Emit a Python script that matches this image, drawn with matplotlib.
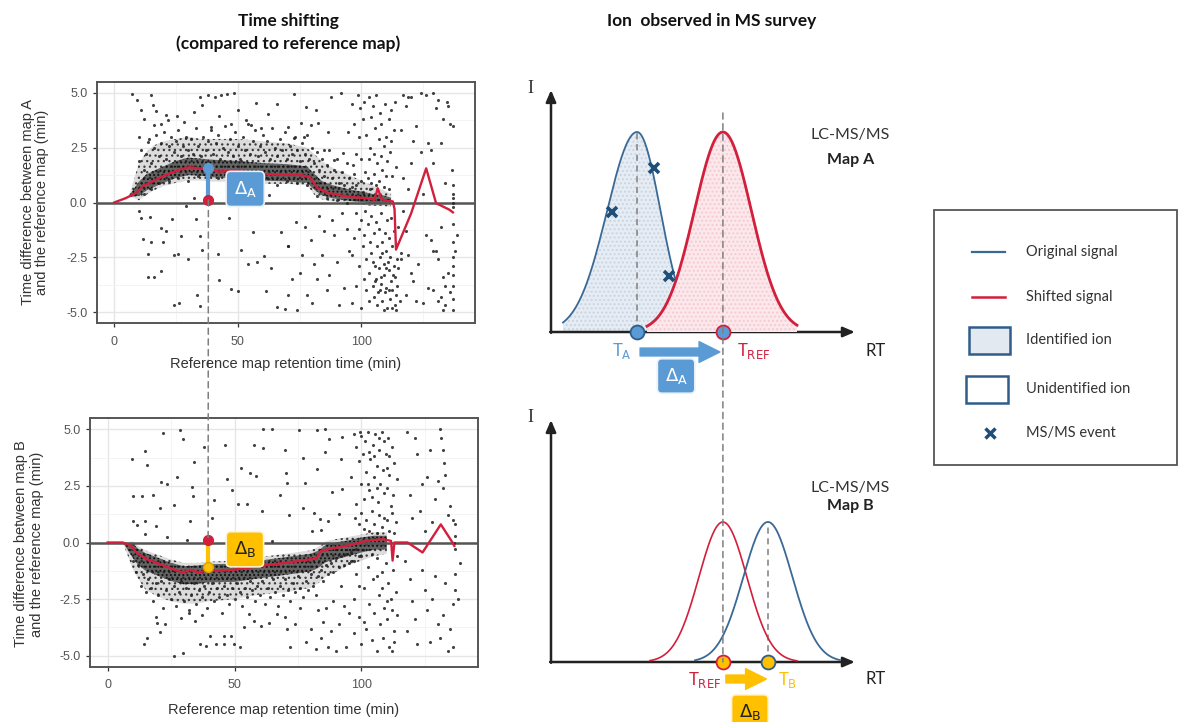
import numpy as np
import matplotlib
matplotlib.use("Agg")
import matplotlib.pyplot as plt
from matplotlib.patches import Rectangle, ConnectionPatch

plt.rcParams['hatch.linewidth'] = 0.9

# ---------------- data: left panels ----------------
# Map A: LOESS-like shift curve (reference RT, shift)
lineA_x = [0, 4.7, 8.8, 11.5, 15.5, 20.9, 26.3, 30.3, 34.4, 37.8, 42.5, 47.9, 54.6, 61.4, 68.1, 74.9, 78.9,
           82.3, 87.0, 92.4, 97.0, 101.9, 105.3, 106.6, 108.0, 109.3, 112.7, 113.4, 114.0, 120.1, 126.2,
           130.2, 135.6, 137.0]
lineA_y = [0.0, 0.2, 0.43, 0.74, 0.96, 1.26, 1.49, 1.61, 1.56, 1.52, 1.41, 1.45, 1.38, 1.29, 1.26, 1.26, 1.18,
           0.65, 0.43, 0.31, 0.24, 0.2, 0.12, 0.65, 0.2, 0.09, 0.05, -0.3, -2.15, -0.5, 1.56,
           -0.03, -0.33, -0.45]
# Map B shift curve
lineB_x = [0, 6, 9.3, 11.3, 15.2, 20.5, 25.7, 29.7, 32.3, 36.2, 39.5, 42.8, 49.3, 55.9, 62.5, 69.0, 75.6,
           82.2, 84.1, 88.7, 95.3, 101.8, 108.4, 111.7, 112.3, 113.0, 118.2, 124.1, 131.3, 135.9, 136.6]
lineB_y = [0, 0, -0.15, -0.44, -0.73, -0.95, -1.18, -1.32, -1.21, -1.32, -1.21, -1.25, -1.21, -1.11, -1.0,
           -0.91, -0.81, -0.71, -0.37, -0.26, -0.12, 0.07, 0.15, 0.07, -0.8, 0.0, 0.0, -0.44, 0.8, 0.0, -0.15]

# dense point band around the curves (estimated envelopes)
bandA_x = [6, 10, 13, 16, 20, 25, 30, 35, 40, 50, 60, 70, 78, 81, 84, 88, 92, 96, 100, 104, 108, 112]
coreA_lo = [0.25, 0.3, 0.55, 0.7, 0.9, 1.12, 1.25, 1.22, 1.15, 1.1, 1.0, 0.96, 0.9, 0.58, 0.33, 0.2, 0.13, 0.06, 0.02, -0.03, -0.02, -0.06]
coreA_hi = [0.3, 0.95, 1.28, 1.45, 1.65, 1.9, 2.05, 2.0, 1.95, 1.9, 1.8, 1.75, 1.65, 1.3, 0.98, 0.8, 0.68, 0.58, 0.5, 0.4, 0.35, 0.22]
haloA_lo = [0.3, 0.1, 0.35, 0.55, 0.75, 0.9, 1.0, 1.0, 0.95, 0.95, 0.85, 0.85, 0.8, 0.35, 0.15, 0.05, 0.0, -0.05, -0.1, -0.15, -0.15, -0.2]
haloA_hi = [0.3, 1.8, 2.3, 2.6, 2.8, 2.9, 3.0, 2.9, 2.9, 2.9, 2.8, 2.7, 2.5, 2.2, 1.9, 1.6, 1.4, 1.2, 1.0, 0.8, 0.6, 0.4]

bandB_x = [6, 10, 12, 15, 20, 25, 30, 35, 40, 50, 60, 70, 80, 83, 86, 90, 95, 100, 105, 110]
coreB_lo = [0.0, -0.7, -0.98, -1.25, -1.48, -1.7, -1.85, -1.82, -1.76, -1.74, -1.58, -1.43, -1.28, -1.12, -0.86, -0.74, -0.6, -0.44, -0.32, -0.3]
coreB_hi = [0.0, -0.05, -0.27, -0.47, -0.68, -0.9, -1.05, -1.02, -0.96, -0.94, -0.8, -0.65, -0.5, -0.36, -0.1, 0.0, 0.1, 0.22, 0.3, 0.3]
haloB_lo = [0.0, -1.2, -1.6, -2.1, -2.4, -2.6, -2.7, -2.7, -2.6, -2.5, -2.3, -2.2, -2.0, -1.8, -1.5, -1.3, -1.0, -0.8, -0.6, -0.5]
haloB_hi = [0.0, 0.05, -0.15, -0.35, -0.55, -0.75, -0.9, -0.9, -0.85, -0.8, -0.65, -0.5, -0.35, -0.2, 0.05, 0.15, 0.25, 0.35, 0.45, 0.45]

# individual points, map A
ptsA_left = [(7.4, 4.97), (9.2, 4.7), (14.8, 4.89), (15.9, 4.44), (16.9, 4.18), (10.8, 4.21), (11.9, 3.83),
             (34.8, 4.82), (37.8, 4.89), (40.7, 4.82), (43.2, 4.89), (45.6, 4.94), (48.6, 5.0), (35.4, 4.44),
             (32.4, 4.14), (42.5, 3.94), (49.9, 4.24), (57.2, 4.55), (65.9, 4.49), (62.1, 4.06), (25.6, 3.94),
             (28.3, 3.68), (20.9, 3.98), (18.9, 3.6), (16.2, 3.53), (21.9, 3.76), (53.3, 3.76), (55.3, 3.53),
             (59.4, 3.38), (47.2, 3.6), (39.1, 3.45), (10.1, 3.0), (13.5, 2.78),
             (10.1, -0.4), (10.8, -0.71), (14.6, -0.66), (18.9, -1.16), (20.9, -1.32), (11.5, -1.67),
             (14.9, -1.82), (19.6, -1.82), (27.0, -1.52), (23.2, -0.76), (33.0, -0.76), (34.8, -1.55),
             (13.5, -2.33), (24.0, -2.38), (25.9, -2.33), (29.9, -2.6), (35.4, -2.18), (41.8, -2.33),
             (51.3, -2.15), (54.0, -2.79), (57.8, -2.73), (60.8, -2.45), (56.0, -1.36), (67.5, -1.36),
             (63.4, -2.98), (70.2, -2.0), (13.5, -3.39), (16.2, -3.39), (18.9, -3.14), (42.5, -3.54),
             (47.2, -3.97), (49.9, -4.04), (61.4, -4.04), (24.3, -4.7), (26.3, -4.6), (33.7, -4.24),
             (34.8, -4.72), (65.9, -4.76), (69.1, -4.85), (32.4, 0.2), (29.0, -0.15), (46.3, -0.71), (62.7, 0.35)]
ptsA_mid = [(72.9, 4.97), (77.6, 4.37), (81.6, 4.21), (87.7, 4.82), (91.7, 5.0), (86.3, 3.23), (94.4, 3.23),
            (82.3, 3.61), (75.5, 3.61), (79.6, 3.53), (85.0, 2.4), (89.0, 1.95), (92.4, 2.25), (76.9, 3.0),
            (72.9, 2.93), (70.2, 3.45),
            (70.5, -2.0), (70.5, -4.2), (73.5, -0.9), (75, -3.2), (76, -2.4), (78, -4.2), (79.6, -1.7),
            (80, -4.6), (82, -3.5), (84, -2.4), (85, -1.3), (86, -4.0), (87, -3.3), (88, -0.8), (89, -1.5),
            (90, -2.7), (91, -4.7), (92, -0.5), (93, -3.9), (94, -1.2), (95, -2.2), (96, -4.6), (83, -0.6),
            (81, -2.8), (77, -1.1), (74, -4.9), (72, -3.5)]
ptsA_cloud = [(98.5, 4.9), (99.5, 4.3), (100.5, 3.8), (101, 4.6), (102, 3.1), (103, 4.8), (103.5, 2.5), (104, 3.9),
              (104.5, 4.4), (105, 2.2), (105.5, 3.4), (106, 4.9), (106.5, 1.8), (107, 2.9), (107.5, 4.1),
              (108, 3.6), (108.5, 1.5), (109, 2.6), (109.5, 4.5), (110, 3.0), (110.5, 1.9), (111, 3.8),
              (111.5, 2.3), (112, 4.2), (112.5, 1.2), (113, 3.3), (100, 2.0), (101.5, 1.4), (102.5, 1.1),
              (104, 0.9), (105, 1.3), (106, 0.8), (107, 1.0), (109, 0.7), (110, 1.2), (111, 0.6), (99, 3.0),
              (100, 1.0), (98, 2.2), (97, 3.6), (96, 4.5), (103, 2.0), (108, 2.1), (112, 2.8), (113.5, 4.6),
              (114, 1.6), (98, 0.8), (100.5, 0.5), (103.5, 0.6), (96.5, 1.7),
              (98, -0.5), (99, -1.2), (100, -0.8), (100.5, -2.0), (101, -1.5), (101.5, -0.4), (102, -2.6),
              (102.5, -1.0), (103, -3.2), (103.5, -1.8), (104, -0.6), (104, -2.3), (104.5, -3.8), (105, -1.4),
              (105, -4.3), (105.5, -2.9), (106, -0.9), (106, -3.5), (106.5, -2.0), (106.5, -4.7), (107, -1.2),
              (107, -3.0), (107.5, -2.5), (107.5, -4.0), (108, -0.5), (108, -3.7), (108.5, -1.8), (108.5, -4.5),
              (109, -2.8), (109, -3.3), (109.5, -1.4), (109.5, -4.1), (110, -2.2), (110, -3.9), (110.5, -0.8),
              (110.5, -4.8), (111, -1.6), (111, -3.1), (111.5, -2.5), (111.5, -4.4), (112, -0.7), (112, -3.6),
              (112.5, -2.0), (112.5, -4.0), (113, -1.3), (113, -2.9), (113.5, -3.4), (113.5, -4.7), (114, -1.9),
              (114, -4.2), (114.5, -2.6), (114.5, -3.8), (115, -1.1), (115, -3.0), (115.5, -4.5), (116, -2.3),
              (105.5, -3.6), (106.8, -4.1), (108.2, -2.3), (109.8, -3.0), (111.2, -4.0), (112.8, -3.3),
              (110.8, -2.7), (107.8, -3.4), (104.8, -2.7), (103, -4.5), (101, -3.5), (100, -4.8), (102, -4.0),
              (99, -2.9), (98, -3.8), (97, -1.6), (96, -2.4), (113.8, -4.9), (112.3, -4.8), (109, -4.9)]
ptsA_right = [(117, 4.9), (119, 4.8), (120, 4.8), (124, 5.0), (126, 4.9), (129, 5.0), (130, 4.3), (131, 4.7),
              (118, 4.4), (116, 3.3), (122, 3.5), (121, 2.8), (124, 2.3), (127, 2.7), (128, 2.4), (129, 1.8),
              (133, 3.8), (134.5, 4.6), (135, 4.4), (136, 3.6), (132, 2.7), (137, 3.5), (119, 0.6), (117, 1.1),
              (120, 1.8), (125, 0.4), (134, 0.9), (136.5, 1.5), (137, 0.8), (137, 0.4), (137, 0.2), (137, 0.0),
              (137, -0.2), (117, -0.4), (118, -1.3), (116, -2.6), (119, -2.4), (120, -3.2), (121, -3.6),
              (118, -4.2), (122, -4.5), (126, -1.5), (128, -1.7), (129, -2.2), (130, -2.2), (131, -2.6),
              (132, -1.1), (133, -3.4), (132, -4.3), (131, -4.5), (134, -3.8), (133, -4.9), (137, -1.0),
              (137, -1.8), (137, -2.5), (137, -2.9), (137, -3.3), (137, -3.8), (137, -4.4), (137, -4.9),
              (138, -2.2), (138.5, -1.5), (127, -3.9), (125, -4.6), (123, -2.8), (129, -4.0), (136, -4.1),
              (135, -3.2), (134, -4.7)]
ptsA_halo = [(10, 1.9), (11, 2.4), (12, 1.5), (13, 2.2), (14, 2.9), (15, 1.8), (16, 2.5), (17, 3.1), (18, 2.1),
             (19, 2.7), (20, 3.2), (21, 2.0), (22, 2.6), (23, 3.0), (24, 2.3), (25, 2.8), (26, 3.3), (27, 2.1),
             (28, 2.6), (29, 3.0), (30, 2.4), (31, 2.9), (32, 2.2), (33, 3.4), (34, 2.6), (35, 2.1), (36, 3.0),
             (37, 2.4), (38, 2.8), (39, 3.3), (40, 2.2), (41, 2.7), (42, 3.1), (43, 2.0), (44, 2.5), (45, 3.5),
             (46, 2.3), (47, 2.9), (48, 2.1), (49, 3.2), (50, 2.6), (51, 2.0), (52, 3.0), (53, 2.4), (54, 3.6),
             (55, 2.2), (56, 2.8), (57, 3.3), (58, 2.1), (59, 2.6), (60, 3.1), (61, 2.3), (62, 2.8), (63, 2.0),
             (64, 3.4), (65, 2.5), (66, 2.1), (67, 2.9), (68, 2.4), (69, 3.2), (70, 2.0), (71, 2.6), (72, 2.2),
             (73, 3.0), (74, 2.4), (75, 1.9), (76, 2.7), (77, 2.2), (78, 3.1), (79, 2.0), (80, 2.5), (81, 1.8),
             (82, 2.3), (83, 1.5), (84, 2.0), (85, 1.2), (86, 1.7), (87, 2.4), (88, 1.1), (89, 1.5), (90, 2.0),
             (91, 0.9), (92, 1.4), (93, 0.8), (94, 1.8), (95, 1.1), (96, 0.7), (97, 1.3),
             (12, 0.4), (15, 0.6), (18, 0.9), (22, 1.0), (26, 1.1), (30, 1.0), (34, 1.2), (38, 0.9), (42, 1.1),
             (46, 1.0), (50, 1.2), (54, 0.9), (58, 1.0), (62, 1.1), (66, 0.8), (70, 1.0), (74, 0.9), (78, 0.8),
             (82, 0.3), (86, 0.2), (90, 0.1), (94, 0.0)]

# individual points, map B
ptsB_left = [(21.9, 4.85), (28.5, 4.95), (29.8, 4.56), (14.7, 4.03), (9.5, 3.68), (15.7, 3.42), (34.1, 3.54),
             (37.8, 4.22), (46.2, 4.3), (57.7, 4.3), (61.4, 4.18), (61.4, 5.0), (64.9, 5.0), (52.7, 3.27),
             (56.0, 3.05), (58.3, 2.95), (70.2, 3.05), (27.5, 2.91), (20.9, 2.66), (23.4, 2.57), (33.2, 2.47),
             (47.2, 2.81), (49.2, 2.33), (9.8, 2.04), (13.4, 2.04), (17.7, 2.08), (33.7, 2.04), (42.0, 1.89),
             (26.0, 1.67), (20.7, 1.52), (51.2, 1.7), (54.9, 1.7), (61.0, 1.38), (68.0, 2.08), (9.8, 0.97),
             (14.7, 0.97), (11.6, 0.79), (19.0, 0.72), (32.5, 0.97), (41.1, 1.08), (14.7, 0.38), (23.4, 0.23),
             (31.3, 0.09), (64.9, 0.06),
             (19.2, -3.27), (19.6, -3.56), (22.6, -3.62), (20.7, -3.96), (15.6, -4.21), (14.3, -4.47),
             (29.8, -4.88), (29.0, -3.33), (32.0, -3.12), (37.2, -3.22), (34.6, -3.45), (40.4, -4.15),
             (36.5, -4.5), (38.7, -4.59), (42.7, -4.47), (45.7, -4.15), (46.0, -4.47), (48.8, -4.15),
             (49.9, -4.47), (52.2, -4.62), (55.8, -3.16), (53.8, -3.74), (57.7, -3.45), (60.4, -3.68),
             (63.6, -3.56), (66.9, -3.16), (70.6, -3.82), (26.3, -5.0)]
ptsB_mid = [(75.5, 4.95), (82.7, 4.95), (85.7, 5.0), (87.3, 4.56), (92.5, 4.66), (76.8, 3.74), (85.7, 4.0),
            (91.9, 3.71), (82.7, 3.24), (77.8, 2.62), (88.3, 2.25), (92.2, 2.37), (77.0, 1.51), (81.3, 1.32),
            (83.6, 1.02), (87.0, 0.94), (91.0, 1.26), (80.7, 0.5), (84.0, 0.57), (70.0, 4.08), (71.6, 1.23),
            (70.5, 2.62)]
ptsB_cloud = [(97, 4.8), (98, 4.2), (99, 3.6), (99.5, 4.9), (100, 2.6), (100.5, 3.9), (101, 1.9), (101.5, 4.5),
              (102, 3.1), (102.5, 4.9), (103, 2.3), (103.5, 3.7), (104, 1.4), (104.5, 4.3), (105, 2.9),
              (105.5, 4.8), (106, 3.4), (106.5, 1.8), (107, 4.1), (107.5, 2.6), (108, 4.9), (108.5, 3.2),
              (109, 1.1), (109.5, 3.9), (110, 2.4), (110.5, 4.6), (111, 3.0), (111.5, 1.6), (112, 4.2),
              (112.5, 2.1), (113, 3.5), (113.5, 0.9), (114, 2.8), (98, 1.7), (99, 0.8), (100, 1.3), (101, 0.6),
              (102, 1.0), (103, 0.5), (104, 2.0), (105, 0.8), (106, 0.4), (107, 1.2), (108, 0.7), (109, 2.2),
              (110, 1.0), (111, 0.5), (112, 1.3), (113, 0.4), (105, 3.8), (107, 4.6), (103, 4.0), (109, 4.5),
              (111, 3.8), (100, 4.7), (102.5, 2.6), (106, 2.4), (110, 3.3), (96, 2.9), (97.5, 1.1),
              (96, -0.8), (97, -2.5), (98, -1.4), (99, -3.3), (100, -0.6), (100, -4.5), (101, -2.0), (102, -3.8),
              (102.5, -1.1), (103, -2.7), (104, -4.3), (104.5, -1.6), (105, -3.1), (106, -0.7), (106, -4.8),
              (107, -2.3), (107.5, -3.6), (108, -1.3), (108.5, -4.2), (109, -2.9), (109.5, -0.9), (110, -3.4),
              (110.5, -1.8), (111, -4.6), (111.5, -2.5), (112, -3.0), (112.5, -1.2), (113, -3.9), (113, -4.4),
              (113.5, -2.2), (114, -3.2), (114, -0.6), (112, -4.8), (110, -2.6), (108, -2.0), (106, -1.5),
              (104, -0.5), (101, -3.5), (99, -1.9), (97, -4.0), (95, -3.1), (94, -4.6), (93, -2.8), (92, -1.9),
              (91, -3.6), (90, -4.8), (89, -2.6), (88, -3.9), (87, -4.6), (86, -2.9), (85, -3.5), (84, -4.2),
              (83, -3.0), (82, -4.7), (80, -3.8), (78, -4.4), (76, -2.9), (74, -3.6), (72, -4.6), (70, -3.3)]
ptsB_right = [(118, 4.9), (121, 4.6), (122, 3.9), (124, 2.6), (126, 2.9), (127, 4.1), (129, 1.9), (131, 5.0),
              (131.5, 4.6), (132, 4.1), (132.5, 3.5), (133, 3.0), (132, 2.4), (120, 1.1), (123, 1.4), (125, 0.5),
              (128, 0.9), (135, 1.6), (136, 1.0), (137, 0.8), (137, 0.3), (136.5, 0.0), (137, -0.3), (130, 2.7),
              (119, 2.1), (134, 1.2), (117, -0.8), (119, -1.6), (120, -2.6), (121, -3.4), (122, -4.5),
              (118, -3.9), (124, -1.2), (125, -2.1), (126, -3.0), (127, -4.4), (128, -2.5), (129, -1.5),
              (130, -3.6), (131, -4.2), (132, -3.2), (133, -1.8), (134, -4.8), (135, -3.8), (136, -2.7),
              (137, -1.4), (137, -2.1), (138, -2.5), (139, -0.9), (136, -4.6)]
ptsB_halo = [(10, -0.8), (11, -1.3), (12, -1.0), (13, -1.9), (14, -1.4), (15, -2.2), (16, -1.6), (17, -2.0),
             (18, -2.6), (19, -1.8), (20, -2.3), (21, -1.7), (22, -2.9), (23, -2.1), (24, -1.6), (25, -2.5),
             (26, -1.9), (27, -2.8), (28, -2.2), (29, -1.7), (30, -2.6), (31, -2.0), (32, -3.0), (33, -2.3),
             (34, -1.8), (35, -2.7), (36, -2.1), (37, -2.4), (38, -1.9), (39, -2.9), (40, -2.2), (41, -1.8),
             (42, -2.6), (43, -2.0), (44, -2.4), (45, -3.1), (46, -1.9), (47, -2.3), (48, -2.7), (49, -2.0),
             (50, -2.5), (51, -1.8), (52, -2.2), (53, -2.8), (54, -2.0), (55, -2.4), (56, -1.7), (57, -2.1),
             (58, -2.6), (59, -1.9), (60, -2.3), (61, -1.7), (62, -2.7), (63, -2.0), (64, -2.4), (65, -1.6),
             (66, -2.2), (67, -2.8), (68, -1.9), (69, -2.3), (70, -1.6), (71, -2.1), (72, -2.6), (73, -1.8),
             (74, -2.2), (75, -1.5), (76, -2.0), (77, -2.4), (78, -1.7), (79, -2.1), (80, -1.4), (81, -1.9),
             (82, -2.3), (83, -1.5), (84, -1.2), (85, -1.7), (86, -1.0), (87, -1.4), (88, -0.9), (89, -1.3),
             (90, -0.7), (91, -1.1), (92, -0.6), (93, -1.0), (94, -0.5), (95, -0.9), (96, -0.4), (97, -0.8),
             (98, -0.3), (99, -0.6)]

# highlighted ion (reference RT and its shifts)
ion_ref_rt = [38.1, 39.6]
ion_shift = [1.56, -1.08]
ion_zero = [0.12, 0.1]

# ---------------- data: schematic peaks (RT arbitrary units) ----------------
# center, height, sigma_left, sigma_right, start, end
peakA_orig = [2.87, 1.0, 1.0, 0.78, 0.4, 4.6]
peakA_shift = [5.73, 1.0, 0.95, 0.95, 3.2, 8.2]
peakB_shift = [5.73, 0.70, 0.80, 0.80, 3.3, 8.2]
peakB_orig = [7.23, 0.70, 0.82, 0.82, 4.8, 9.63]
msms_rt = [2.02, 3.43, 3.93]
msms_i = [0.60, 0.82, 0.28]

W, H = 1178, 722
fig = plt.figure(figsize=(W / 100, H / 100), dpi=100)

def px_axes(x0, y0, x1, y1):
    return fig.add_axes([x0 / W, 1 - y1 / H, (x1 - x0) / W, (y1 - y0) / H])

RED = '#D21F3C'
LBLUE = '#5B9BD5'
YEL = '#FFC000'
DBLUE = '#3A6995'
SANS = 'Liberation Sans'
CAL = 'Lato'

def left_panel(ax, line_x, line_y, band_x, halo_lo, halo_hi, core_lo, core_hi, groups):
    ax.set_xlim(-6.95, 145.95)
    ax.set_ylim(-5.5, 5.5)
    ax.set_xticks([0, 50, 100])
    ax.set_xticks([25, 75, 125], minor=True)
    ax.set_yticks([-5, -2.5, 0, 2.5, 5])
    ax.set_yticklabels(['-5.0', '-2.5', '0.0', '2.5', '5.0'])
    ax.set_yticks([-3.75, -1.25, 1.25, 3.75], minor=True)
    ax.grid(which='major', color='#E6E6E6', lw=1.0)
    ax.grid(which='minor', color='#F2F2F2', lw=0.6)
    ax.set_axisbelow(True)
    ax.tick_params(which='minor', length=0)
    ax.tick_params(which='major', length=3, width=0.9, color='#333333', labelcolor='#555555',
                   labelsize=9)
    ax.tick_params(axis='x', pad=6)
    ax.tick_params(axis='y', pad=4)
    for lab in ax.get_xticklabels() + ax.get_yticklabels():
        lab.set_fontfamily(SANS)
    for s in ax.spines.values():
        s.set_color('#555555')
        s.set_linewidth(1.4)
    # stippled halo and dense core of the point cloud
    ax.fill_between(band_x, halo_lo, halo_hi, facecolor=(0.2, 0.2, 0.2, 0.17), edgecolor='#3a3a3a',
                    hatch='...', lw=0, zorder=2)
    ax.fill_between(band_x, core_lo, core_hi, facecolor=(0.1, 0.1, 0.1, 0.62), edgecolor='#111111',
                    hatch='....', lw=0, zorder=2)
    ax.axhline(0, color='#555555', lw=1.8, zorder=2.5)
    for g in groups:
        gx = [p[0] for p in g]
        gy = [p[1] for p in g]
        ax.scatter(gx, gy, s=5, color='#222222', alpha=0.85, lw=0, zorder=3)
    ax.plot(line_x, line_y, color=RED, lw=1.7, zorder=4)

axA = px_axes(97, 82, 475, 323)
left_panel(axA, lineA_x, lineA_y, bandA_x, haloA_lo, haloA_hi, coreA_lo, coreA_hi,
           [ptsA_left, ptsA_mid, ptsA_cloud, ptsA_right, ptsA_halo])
axB = px_axes(90, 418, 478, 667)
left_panel(axB, lineB_x, lineB_y, bandB_x, haloB_lo, haloB_hi, coreB_lo, coreB_hi,
           [ptsB_left, ptsB_mid, ptsB_cloud, ptsB_right, ptsB_halo])

# highlighted ion in left panels
axA.plot([ion_ref_rt[0]] * 2, [ion_zero[0], ion_shift[0]], color=LBLUE, lw=3, zorder=5)
axA.plot(ion_ref_rt[0], ion_shift[0], 'o', ms=7, color=LBLUE, zorder=6)
axA.plot(ion_ref_rt[0], ion_zero[0], 'o', ms=7, color=RED, zorder=6)
axA.text(53, 0.62, r'$\Delta_\mathrm{A}$', color='white', fontsize=13, ha='center', va='center', zorder=7,
         bbox=dict(boxstyle='round,pad=0.42,rounding_size=0.25', fc=LBLUE, ec='#e8f0f8', lw=1.2))
axB.plot([ion_ref_rt[1]] * 2, [ion_zero[1], ion_shift[1]], color=YEL, lw=3, zorder=5)
axB.plot(ion_ref_rt[1], ion_shift[1], 'o', ms=7, color=YEL, mec='#d9a400', zorder=6)
axB.plot(ion_ref_rt[1], ion_zero[1], 'o', ms=7, color=RED, zorder=6)
axB.text(54.1, -0.3, r'$\Delta_\mathrm{B}$', color='#222222', fontsize=13, ha='center', va='center', zorder=7,
         bbox=dict(boxstyle='round,pad=0.42,rounding_size=0.25', fc=YEL, ec='#fff4d0', lw=1.2))

con = ConnectionPatch(xyA=(ion_ref_rt[0], ion_zero[0]), coordsA=axA.transData,
                      xyB=(ion_ref_rt[1], ion_zero[1]), coordsB=axB.transData,
                      color='#7f7f7f', lw=1.1, ls=(0, (4, 3)), zorder=1)
fig.add_artist(con)

# axis titles for left panels
fig.text(35 / W, 1 - 202 / H, 'Time difference between map A\nand the reference map (min)', rotation=90,
         ha='center', va='center', fontsize=10.5, color='#333333', family=SANS, linespacing=1.05)
fig.text(29 / W, 1 - 544 / H, 'Time difference between map B\nand the reference map (min)', rotation=90,
         ha='center', va='center', fontsize=10.5, color='#333333', family=SANS, linespacing=1.2)
fig.text(286 / W, 1 - 364 / H, 'Reference map retention time (min)', ha='center', va='center',
         fontsize=10.5, color='#333333', family=SANS)
fig.text(284 / W, 1 - 710 / H, 'Reference map retention time (min)', ha='center', va='center',
         fontsize=10.5, color='#333333', family=SANS)

# column titles
fig.text(288 / W, 1 - 21 / H, 'Time shifting', ha='center', va='center', fontsize=12.5,
         fontweight='bold', family=CAL, color='#111111')
fig.text(288 / W, 1 - 44 / H, '(compared to reference map)', ha='center', va='center', fontsize=12.5,
         fontweight='bold', family=CAL, color='#111111')
fig.text(712 / W, 1 - 21 / H, 'Ion  observed in MS survey', ha='center', va='center', fontsize=12.5,
         fontweight='bold', family=CAL, color='#111111')

# ---------------- schematic panels ----------------
def peak_curve(p, n=300):
    c, h, sl, sr, a, b = p
    x = np.linspace(a, b, n)
    s = np.where(x < c, sl, sr)
    return x, h * np.exp(-0.5 * ((x - c) / s) ** 2)

def frame(ax):
    ax.set_xlim(0, 10)
    ax.set_ylim(0, 1.2)
    ax.axis('off')
    ap = dict(arrowstyle='-|>,head_length=0.7,head_width=0.3', lw=1.8, color='#222222', shrinkA=0, shrinkB=0)
    ax.annotate('', xy=(0, 1.21), xytext=(0, -0.004), arrowprops=ap, annotation_clip=False)
    ax.annotate('', xy=(10.13, 0), xytext=(-0.03, 0), arrowprops=ap, annotation_clip=False)
    ax.text(-0.7, 1.22, 'I', family='Liberation Serif', fontsize=13, color='#333333', ha='center', va='center')

axSA = px_axes(551, 92, 851, 332)
frame(axSA)
xb, yb = peak_curve(peakA_orig)
axSA.fill_between(xb, 0, yb, facecolor='#E6ECF3', edgecolor='#C9D4E1', hatch='....', lw=0, zorder=1)
axSA.plot(xb, yb, color=DBLUE, lw=1.3, zorder=2)
xr, yr = peak_curve(peakA_shift)
axSA.fill_between(xr, 0, yr, facecolor='#FCE7EB', edgecolor='#F3CAD2', hatch='....', lw=0, zorder=3)
axSA.plot(xr, yr, color=RED, lw=2.0, zorder=4)
axSA.plot([peakA_orig[0]] * 2, [0, peakA_orig[1]], color='#7f7f7f', lw=1.1, ls=(0, (4, 3)), zorder=5)
axSA.plot(msms_rt, msms_i, 'x', ms=7, mew=2.6, color='#1F4E79', zorder=6)
axSA.plot(peakA_orig[0], 0, 'o', ms=10, mfc=LBLUE, mec='#2E5D8C', mew=1.3, zorder=7, clip_on=False)
axSA.plot(peakA_shift[0], 0, 'o', ms=10, mfc=LBLUE, mec=RED, mew=1.3, zorder=7, clip_on=False)
axSA.annotate('', xy=(peakA_shift[0] - 0.1, -0.1), xytext=(peakA_orig[0] + 0.1, -0.1), annotation_clip=False,
              arrowprops=dict(arrowstyle='simple,head_width=1.0,head_length=1.0,tail_width=0.38',
                              color=LBLUE, mutation_scale=15, shrinkA=0, shrinkB=0))
axSA.text(2.35, -0.095, r'T$_\mathrm{A}$', color=LBLUE, fontsize=12, family=CAL, ha='center', va='center')
axSA.text(6.75, -0.095, r'T$_\mathrm{REF}$', color=RED, fontsize=12, family=CAL, ha='center', va='center')
axSA.text(10.47, -0.095, 'RT', color='#222222', fontsize=12, family=CAL, ha='left', va='center')
axSA.text(4.17, -0.22, r'$\Delta_\mathrm{A}$', color='white', fontsize=13, ha='center', va='center', zorder=8,
          bbox=dict(boxstyle='round,pad=0.4,rounding_size=0.25', fc=LBLUE, ec='#e8f0f8', lw=1.2))
axSA.text(9.98, 0.985, 'LC-MS/MS', color='#333333', fontsize=11.5, family=CAL, ha='center', va='center')
axSA.text(9.98, 0.86, 'Map A', color='#222222', fontsize=11.5, family=CAL, fontweight='bold',
          ha='center', va='center')

axSB = px_axes(551, 422, 851, 662)
frame(axSB)
xr2, yr2 = peak_curve(peakB_shift)
axSB.plot(xr2, yr2, color=RED, lw=1.2, zorder=3)
xb2, yb2 = peak_curve(peakB_orig)
axSB.plot(xb2, yb2, color=DBLUE, lw=1.3, zorder=3)
axSB.plot([peakB_orig[0]] * 2, [0, peakB_orig[1]], color='#7f7f7f', lw=1.1, ls=(0, (4, 3)), zorder=2)
axSB.plot(peakB_shift[0], 0, 'o', ms=10, mfc=YEL, mec=RED, mew=1.3, zorder=7, clip_on=False)
axSB.plot(peakB_orig[0], 0, 'o', ms=10, mfc=YEL, mec='#2E5D8C', mew=1.3, zorder=7, clip_on=False)
axSB.annotate('', xy=(peakB_orig[0] - 0.05, -0.085), xytext=(peakB_shift[0] + 0.1, -0.085),
              annotation_clip=False,
              arrowprops=dict(arrowstyle='simple,head_width=1.0,head_length=1.0,tail_width=0.38',
                              color=YEL, mutation_scale=15, shrinkA=0, shrinkB=0))
axSB.text(5.13, -0.09, r'T$_\mathrm{REF}$', color=RED, fontsize=12, family=CAL, ha='center', va='center')
axSB.text(7.9, -0.09, r'T$_\mathrm{B}$', color=YEL, fontsize=12, family=CAL, ha='center', va='center')
axSB.text(10.47, -0.085, 'RT', color='#222222', fontsize=12, family=CAL, ha='left', va='center')
axSB.text(6.63, -0.25, r'$\Delta_\mathrm{B}$', color='#222222', fontsize=13, ha='center', va='center', zorder=8,
          bbox=dict(boxstyle='round,pad=0.4,rounding_size=0.25', fc=YEL, ec='#fff4d0', lw=1.2))
axSB.text(9.98, 0.87, 'LC-MS/MS', color='#333333', fontsize=11.5, family=CAL, ha='center', va='center')
axSB.text(9.98, 0.78, 'Map B', color='#222222', fontsize=11.5, family=CAL, fontweight='bold',
          ha='center', va='center')

con2 = ConnectionPatch(xyA=(peakA_shift[0], 1.095), coordsA=axSA.transData,
                       xyB=(peakB_shift[0], 0), coordsB=axSB.transData,
                       color='#7f7f7f', lw=1.1, ls=(0, (4, 3)), zorder=1)
fig.add_artist(con2)

# ---------------- legend ----------------
axL = px_axes(933, 209, 1178, 466)
axL.set_xlim(0, 245)
axL.set_ylim(257, 0)
axL.axis('off')
axL.add_patch(Rectangle((1, 1), 243, 255, fill=False, ec='#555555', lw=1.3))
axL.plot([39, 72], [43, 43], color=DBLUE, lw=1.6)
axL.plot([39, 72], [88, 88], color=RED, lw=1.8)
axL.add_patch(Rectangle((36, 118), 41, 27, fc='#E3E9F1', ec='#2E5D8C', lw=1.8))
axL.add_patch(Rectangle((33, 167), 42, 27, fc='white', ec='#2E5D8C', lw=1.8))
axL.plot([57], [224], 'x', ms=6.5, mew=2.5, color='#1F4E79')
leg_labels = ['Original signal', 'Shifted signal', 'Identified ion', 'Unidentified ion', 'MS/MS event']
leg_y = [43, 88, 131, 180, 224]
for lab, yy in zip(leg_labels, leg_y):
    axL.text(93, yy, lab, fontsize=10.5, family=CAL, color='#333333', ha='left', va='center')

fig.savefig('out.png', dpi=100)
